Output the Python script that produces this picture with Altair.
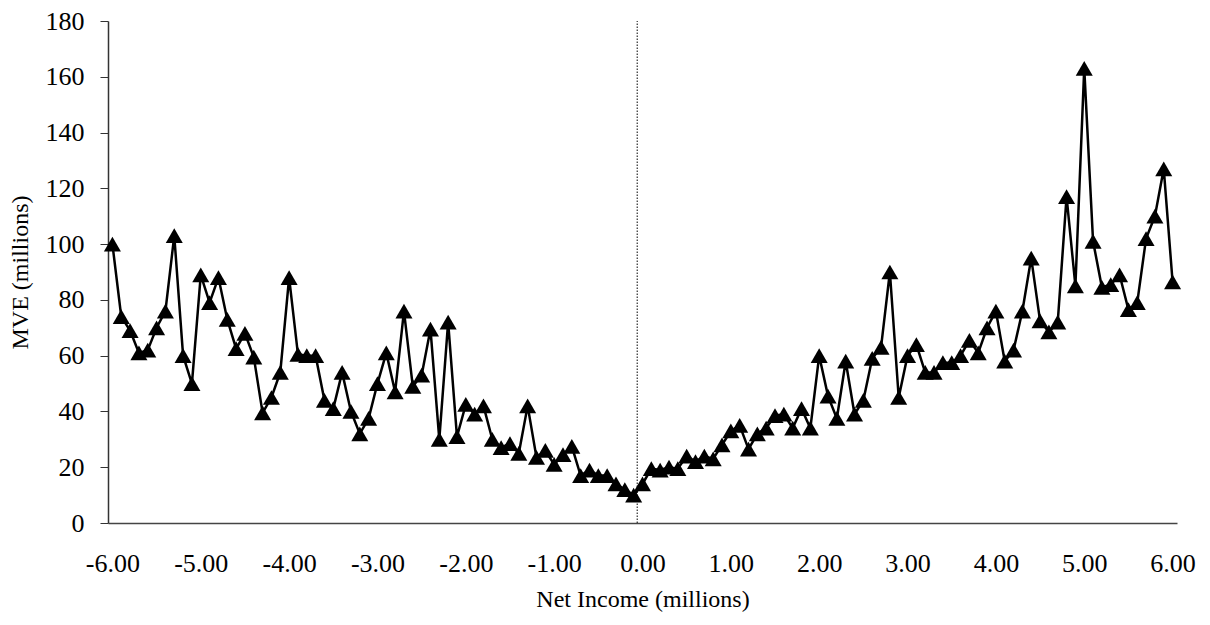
import altair as alt
import pandas as pd

net_income = [
    -6.0, -5.9, -5.8, -5.7, -5.6, -5.5, -5.4, -5.3, -5.2, -5.1,
    -5.0, -4.9, -4.8, -4.7, -4.6, -4.5, -4.4, -4.3, -4.2, -4.1,
    -4.0, -3.9, -3.8, -3.7, -3.6, -3.5, -3.4, -3.3, -3.2, -3.1,
    -3.0, -2.9, -2.8, -2.7, -2.6, -2.5, -2.4, -2.3, -2.2, -2.1,
    -2.0, -1.9, -1.8, -1.7, -1.6, -1.5, -1.4, -1.3, -1.2, -1.1,
    -1.0, -0.9, -0.8, -0.7, -0.6, -0.5, -0.4, -0.3, -0.2, -0.1,
    0.0, 0.1, 0.2, 0.3, 0.4, 0.5, 0.6, 0.7, 0.8, 0.9,
    1.0, 1.1, 1.2, 1.3, 1.4, 1.5, 1.6, 1.7, 1.8, 1.9,
    2.0, 2.1, 2.2, 2.3, 2.4, 2.5, 2.6, 2.7, 2.8, 2.9,
    3.0, 3.1, 3.2, 3.3, 3.4, 3.5, 3.6, 3.7, 3.8, 3.9,
    4.0, 4.1, 4.2, 4.3, 4.4, 4.5, 4.6, 4.7, 4.8, 4.9,
    5.0, 5.1, 5.2, 5.3, 5.4, 5.5, 5.6, 5.7, 5.8, 5.9,
    6.0,
]

mve = [
    100, 74, 69, 61, 62, 70, 76, 103, 60, 50,
    89, 79, 88, 73, 62.5, 68, 59.5, 39.5, 45, 54,
    88, 60.5, 60, 60, 44, 41, 54, 40, 32, 37.5,
    50, 61, 47, 76, 49, 53, 69.5, 30, 72, 31,
    42.5, 39, 42, 30, 27, 28.5, 25, 42, 23.5, 26,
    21, 24.5, 27.5, 17, 19, 17, 17, 14, 12, 10,
    14, 19.5, 19, 20, 19.5, 24, 22, 24, 23, 28,
    33, 35, 26.5, 32, 34, 38.5, 39, 34, 41, 34,
    60, 45.5, 37.5, 58, 39, 44, 59, 63, 90, 45,
    60, 64, 54, 54, 57.5, 57.5, 60, 65.5, 61, 70,
    76, 58, 62, 76, 95, 72.5, 68.5, 72, 117, 85,
    163, 101, 84.5, 85.5, 89, 76.5, 79, 102, 110, 127,
    86.5,
]

x_ticks = [-6, -5, -4, -3, -2, -1, 0, 1, 2, 3, 4, 5, 6]
y_ticks = [0, 20, 40, 60, 80, 100, 120, 140, 160, 180]
divider_x = [-0.06]
divider_y = [0, 180]

df = pd.DataFrame({"x": net_income, "y": mve})
div_df = pd.DataFrame({"x": divider_x * 2, "y": divider_y})

FONT = "Liberation Serif"

x_scale = alt.Scale(domain=[-6.05, 6.05], nice=False, zero=False)
y_scale = alt.Scale(domain=[0, 180], nice=False)

x_axis = alt.Axis(
    title="Net Income (millions)",
    values=x_ticks,
    labelExpr="(datum.value < 0 ? '-' : '') + format(abs(datum.value), '.2f')",
    ticks=False,
    grid=False,
    labelFont=FONT,
    labelFontSize=26,
    labelColor="black",
    labelPadding=27,
    titleFont=FONT,
    titleFontSize=24,
    titleFontWeight="normal",
    titleColor="black",
    titlePadding=11,
    domainColor="#444444",
    domainWidth=1.5,
    labelFlush=False,
)
y_axis = alt.Axis(
    title="MVE (millions)",
    values=y_ticks,
    tickSize=8,
    tickColor="#333333",
    grid=False,
    labelFont=FONT,
    labelFontSize=26,
    labelColor="black",
    labelPadding=16,
    titleFont=FONT,
    titleFontSize=24,
    titleFontWeight="normal",
    titleColor="black",
    titlePadding=13,
    domainColor="#333333",
    domainWidth=1.5,
)

divider = alt.Chart(div_df).mark_line(
    color="black", strokeWidth=1, strokeDash=[1.5, 1.5]
).encode(
    x=alt.X("x:Q", scale=x_scale, axis=x_axis),
    y=alt.Y("y:Q", scale=y_scale, axis=y_axis),
)

line = alt.Chart(df).mark_line(color="black", strokeWidth=2.5).encode(
    x=alt.X("x:Q", scale=x_scale, axis=x_axis),
    y=alt.Y("y:Q", scale=y_scale, axis=y_axis),
)

points = alt.Chart(df).mark_point(
    shape="triangle-up", size=290, filled=True, color="black", opacity=1
).encode(
    x=alt.X("x:Q", scale=x_scale, axis=x_axis),
    y=alt.Y("y:Q", scale=y_scale, axis=y_axis),
)

chart = (
    alt.layer(divider, line, points)
    .properties(
        width=1069,
        height=502,
        autosize=alt.AutoSizeParams(type="none"),
        padding={"left": 108, "top": 21, "right": 33, "bottom": 102},
        background="white",
    )
    .configure_view(stroke=None)
)

chart.save("out.html", embed_options={"renderer": "svg", "actions": False})
